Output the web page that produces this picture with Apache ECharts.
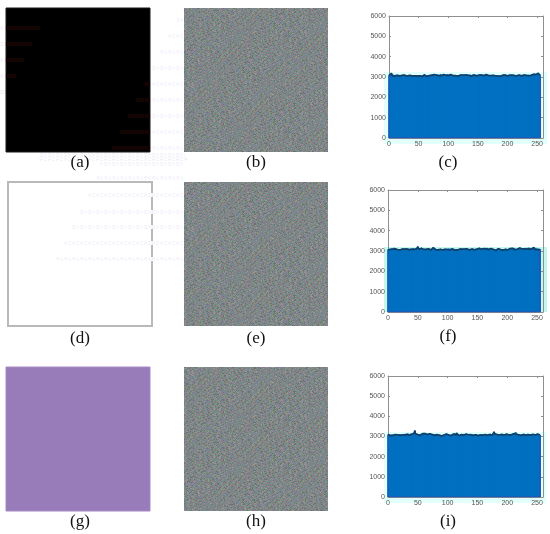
<!DOCTYPE html>
<html><head><meta charset="utf-8">
<script src="https://cdn.jsdelivr.net/npm/echarts@6/dist/echarts.min.js"></script>
<style>html,body{margin:0;padding:0;background:#fff}#c{width:550px;height:534px}</style>
</head><body><div id="c"></div>
<script>
const captions = ['(a)','(b)','(c)','(d)','(e)','(f)','(g)','(h)','(i)'];
const xTicks = [0,50,100,150,200,250];
const yMax = 6000, xMax = 260;

const histC = [
3070,3110,3060,3130,3180,3090,3050,3120,3070,3100,3040,3085,3115,3060,3090,3050,
3075,3105,3045,3090,3060,3035,3080,3100,3055,3070,3095,3040,3065,3085,3050,3075,
3090,3045,3060,3080,3035,3070,3095,3055,3040,3075,3030,3060,3090,3050,3070,3085,
3045,3065,3030,3075,3055,3090,3040,3060,3025,3070,3085,3050,3110,3065,3040,3080,
3020,3060,3095,3050,3075,3035,3065,3125,3080,3055,3090,3045,3120,3070,3140,3060,
3095,3050,3130,3085,3055,3115,3075,3150,3060,3100,3040,3085,3125,3065,3105,3050,
3090,3130,3070,3145,3060,3110,3045,3085,3120,3055,3100,3030,3075,3060,3090,3040,
3070,3020,3055,3085,3040,3075,3100,3060,3090,3050,3110,3070,3095,3055,3085,3045,
3100,3060,3120,3075,3095,3050,3110,3080,3060,3125,3070,3100,3045,3090,3130,3065,
3105,3055,3085,3115,3050,3095,3070,3130,3085,3060,3140,3075,3100,3055,3120,3090,
3065,3110,3045,3085,3125,3060,3095,3040,3075,3105,3055,3020,3070,3090,3035,3065,
3085,3045,3075,3020,3060,3095,3030,3070,3050,3085,3015,3060,3040,3075,3025,3055,
3090,3045,3070,3030,3095,3060,3115,3075,3045,3100,3065,3125,3085,3055,3110,3070,
3095,3050,3085,3120,3065,3100,3045,3080,3060,3110,3075,3040,3095,3060,3085,3105,
3050,3075,3120,3065,3095,3040,3085,3130,3070,3055,3100,3125,3060,3090,3045,3115,
3075,3135,3060,3100,3140,3085,3170,3055,3110,3160,3075,3120,3190,3095,3150,3080];

const histF = [
3060,3095,3040,3110,3075,3120,3050,3140,3085,3060,3160,3070,3105,3045,3090,3055,
3075,3030,3060,3020,3050,3085,3040,3070,3095,3055,3110,3065,3090,3045,3120,3075,
3100,3060,3130,3085,3055,3110,3070,3125,3090,3050,3105,3140,3075,3115,3060,3135,
3095,3150,3210,3120,3085,3140,3070,3110,3130,3060,3095,3045,3080,3060,3110,3040,
3075,3130,3090,3055,3105,3065,3120,3080,3045,3095,3060,3140,3170,3110,3075,3130,
3060,3090,3040,3075,3055,3100,3030,3065,3085,3045,3070,3095,3050,3080,3110,3060,
3090,3040,3075,3120,3065,3100,3130,3075,3050,3110,3085,3145,3095,3060,3115,3075,
3040,3085,3060,3100,3045,3075,3025,3060,3090,3105,3070,3135,3085,3055,3110,3065,
3095,3040,3080,3055,3105,3065,3030,3075,3090,3050,3115,3070,3045,3095,3060,3120,
3080,3050,3100,3065,3125,3085,3055,3110,3075,3135,3095,3060,3115,3080,3140,3100,
3065,3125,3085,3150,3070,3110,3155,3090,3130,3065,3115,3145,3085,3120,3060,3100,
3040,3075,3090,3050,3070,3025,3060,3085,3045,3115,3065,3095,3040,3075,3020,3055,
3085,3040,3070,3100,3050,3080,3035,3065,3095,3055,3075,3110,3060,3125,3085,3050,
3095,3130,3075,3155,3100,3060,3115,3080,3045,3090,3135,3065,3105,3150,3085,3120,
3055,3095,3060,3130,3075,3110,3045,3085,3155,3100,3065,3125,3170,3090,3130,3075,
3145,3100,3165,3085,3120,3170,3070,3115,3155,3095,3060,3130,3080,3110,3060,3090];

const histI = [
3100,3060,3120,3075,3040,3095,3060,3110,3050,3085,3030,3070,3100,3045,3075,3060,
3090,3035,3065,3110,3055,3085,3040,3125,3075,3095,3050,3130,3080,3110,3060,3140,
3095,3155,3075,3120,3060,3100,3145,3085,3115,3065,3130,3090,3170,3290,3140,3085,
3110,3060,3095,3045,3075,3120,3055,3100,3130,3075,3145,3105,3125,3085,3150,3110,
3070,3135,3095,3120,3060,3105,3140,3080,3115,3055,3095,3130,3070,3110,3045,3090,
3125,3065,3100,3050,3080,3030,3065,3095,3045,3075,3020,3060,3085,3040,3070,3105,
3050,3085,3125,3065,3100,3045,3080,3020,3055,3090,3040,3075,3110,3060,3130,3090,
3155,3100,3060,3170,3120,3075,3105,3040,3085,3025,3065,3100,3045,3080,3130,3060,
3095,3050,3075,3120,3065,3095,3040,3085,3110,3060,3135,3090,3055,3115,3075,3045,
3100,3060,3125,3085,3050,3105,3070,3035,3090,3060,3110,3075,3045,3095,3120,3065,
3085,3040,3070,3100,3055,3080,3025,3060,3095,3130,3075,3105,3050,3085,3115,3065,
3095,3145,3230,3130,3085,3110,3065,3100,3050,3080,3115,3070,3095,3045,3075,3105,
3060,3085,3040,3070,3100,3055,3090,3120,3065,3095,3045,3080,3110,3060,3130,3085,
3105,3055,3090,3140,3075,3115,3220,3125,3070,3100,3045,3085,3120,3060,3095,3050,
3080,3115,3065,3100,3140,3075,3110,3055,3090,3130,3070,3105,3045,3085,3120,3060,
3095,3050,3075,3110,3060,3090,3040,3075,3105,3055,3085,3120,3065,3095,3050,3080];

const noisePalette = {a:'#808382',b:'#92788a',c:'#6c9080',d:'#7a82a0',e:'#96968f',f:'#6a7370',g:'#88907a',h:'#728a94'};
const noiseTile = [
'acfbadgehcafbdeahgcfdbae',
'hbecagfdabhecfgadbehcafg',
'dfacehbgfcadhebfagcedhbf',
'ebgdafchbegacdfhbaegfcda',
'cahfbdgaechfdbagcehabfdc',
'gdebchafgdabehcfagdbhecf',
'fabgedhcabfgdeachbfgaedb',
'behcafdgbehafacgdabehcfa',
'adgfbechfadgbcehfagdbfce',
'hcaedbgfchaedfbgcahdegbf',
'bfgchadebfhgcadefbgchdae',
'eagdbfhcaegdbhfacegbdahf',
'gchfaebdgcfhaebdgcfhaebd',
'dbeahgcfdbegahcfbdeagfch',
'faghcdbeafghdcbafegchdba',
'cedbfagheacdbfghaecdbfag',
'ahfcegdbahfgcedabhfcgeda',
'bgdaehfcbgeadhfcgbdaehcf',
'ecafbgdhecfabgdecafhbgda',
'hfbdcaegfhbcdagefhbdcaeg',
'dagefhbcdagefhcbdagehfbc',
'fbchadgefbcahdgefbhcadeg',
'gedfbacgedbfachgedfbachd',
'chabgfedchagbfdechabgfed'];

const panels = [
  {left:6, top:8, size:144, fill:'#000000', border:'#1a1a1a'},
  {left:184,top:8, size:144, noise:true},
  {left:8, top:182,size:144, fill:'#ffffff', border:'#b9b9b9', bw:2},
  {left:184,top:182,size:144, noise:true},
  {left:6, top:367,size:144, fill:'#987cb9', border:'#a48ac2'},
  {left:184,top:367,size:144, noise:true}
];
const hists = [
  {data:histC,left:389,top:16, w:154,h:122,halo:[384,72,163,72],haloColor:'#e2fffb'},
  {data:histF,left:388,top:190,w:155,h:122,halo:[384,247,163,65],haloColor:'#c4f7ec'},
  {data:histI,left:388,top:376,w:155,h:121,halo:[384,432,162,71],haloColor:'#e2fffb'}
];
const captionPos = [[80,163],[256,163],[448,163],[80,339],[256,339],[448,337],[80,522],[256,522],[448,522]];

function noisePattern(){
  const size=144, cv=document.createElement('canvas');
  cv.width=cv.height=size;
  const g=cv.getContext('2d');
  g.filter='blur(0.45px)';
  const n=noiseTile.length;
  for(let y=0;y<size;y++)for(let x=0;x<size;x++){
    const r=noiseTile[(y+(x>>3)*5)%n], ch=r[(x*7+(y>>2)*11)%n];
    g.fillStyle=noisePalette[ch]; g.fillRect(x,y,1,1);
  }
  return {image:cv,repeat:'repeat'};
}
function ghostPattern(a,b){
  const cv=document.createElement('canvas');cv.width=8;cv.height=3;
  const g=cv.getContext('2d');g.fillStyle='#fff';g.fillRect(0,0,8,3);
  g.fillStyle=a;g.fillRect(0,0,3,1);g.fillRect(4,1,3,1);g.fillRect(1,2,2,1);
  g.fillStyle=b;g.fillRect(3,0,2,1);g.fillRect(0,1,2,1);g.fillRect(5,2,2,1);
  return {image:cv,repeat:'repeat'};
}

const grid=[],xAxis=[],yAxis=[],series=[],graphic=[];
const hidden=(gi)=>({gridIndex:gi,type:'value',show:false,min:0,max:1});
const pat=noisePattern();
panels.forEach(p=>{
  const gi=grid.length;
  grid.push({show:true,left:p.left,top:p.top,width:p.size,height:p.size,
    backgroundColor:p.noise?pat:p.fill,borderColor:p.noise?'#7f8281':p.border,borderWidth:p.noise?0:(p.bw||1),z:3});
  xAxis.push(hidden(gi));yAxis.push(hidden(gi));
});

/* faint compression ghosts */
const ghostFill=ghostPattern('#fdeef8','#ebfdfd');
const redFill='#130303';
[[0,28,40],[0,44,32],[0,60,24],[0,76,16],[0,92,6]].forEach(r=>{
  graphic.push({type:'rect',z:2,shape:{x:r[0],y:r[1]-2,width:6,height:4},style:{fill:ghostFill}});
  graphic.push({type:'rect',z:10,shape:{x:6,y:r[1]-2,width:r[2]-6,height:4},style:{fill:redFill}});
});
[[177,20],[168,36],[160,52],[152,68],[144,84],[136,100],[128,116],[120,132],[112,148]].forEach(r=>{
  graphic.push({type:'rect',z:2,shape:{x:Math.max(r[0],150),y:r[1]-2,width:184-Math.max(r[0],150),height:4},style:{fill:ghostFill}});
  if(r[0]<150) graphic.push({type:'rect',z:10,shape:{x:r[0],y:r[1]-2,width:150-r[0],height:4},style:{fill:redFill}});
});
[[40,155,145],[38,159,150],[100,164,84],[97,178,87],[88,195,96],[80,212,104],[72,227,112],[64,243,120],[56,259,128]].forEach(r=>{
  graphic.push({type:'rect',z:r[1]>170?10:2,shape:{x:r[0],y:r[1]-2,width:r[2],height:4},style:{fill:ghostFill,opacity:.9}});
});

hists.forEach(h=>{
  const gi=grid.length;
  graphic.push({type:'rect',z:0,shape:{x:h.halo[0],y:h.halo[1],width:h.halo[2],height:h.halo[3]},style:{fill:h.haloColor}});
  grid.push({left:h.left,top:h.top,width:h.w,height:h.h,z:5});
  const line={lineStyle:{color:'#8f8f8f',width:1}};
  const xb={gridIndex:gi,type:'value',min:0,max:xMax,interval:50,position:'bottom',splitLine:{show:false},
    axisLine:{show:true,onZero:false,...line},axisTick:{show:true,inside:true,length:2,...line},
    axisLabel:{show:true,fontSize:7,color:'#555',margin:3,fontFamily:'Liberation Sans',
      formatter:v=>xTicks.includes(v)?String(v):''}};
  const xt={...xb,position:'top',axisLabel:{show:false}};
  const yl={gridIndex:gi,type:'value',min:0,max:yMax,interval:1000,position:'left',splitLine:{show:false},
    axisLine:{show:true,onZero:false,...line},axisTick:{show:true,inside:true,length:2,...line},
    axisLabel:{show:true,fontSize:7,color:'#555',margin:3,fontFamily:'Liberation Sans',formatter:v=>String(v)}};
  const yr={...yl,position:'right',axisLabel:{show:false}};
  const xi=xAxis.length, yi=yAxis.length;
  xAxis.push(xb,xt);yAxis.push(yl,yr);
  const pts=h.data.map((v,i)=>[i,v]);
  series.push({type:'bar',xAxisIndex:xi,yAxisIndex:yi,data:pts,barWidth:2,silent:true,animation:false,
    itemStyle:{color:'#0070c0'},z:2});
  series.push({type:'line',xAxisIndex:xi,yAxisIndex:yi,data:[[0,0],...pts,[255,0],[0,0]],showSymbol:false,silent:true,animation:false,
    lineStyle:{color:'#2f4fb4',width:1},z:3});
  series.push({type:'line',xAxisIndex:xi,yAxisIndex:yi,data:pts,showSymbol:false,silent:true,animation:false,
    lineStyle:{color:'#123f63',width:1.6},z:4});
});
captions.forEach((t,i)=>{
  graphic.push({type:'text',z:20,x:captionPos[i][0],y:captionPos[i][1],
    style:{text:t,fontFamily:'Liberation Serif',fontSize:17,fill:'#111',align:'center',verticalAlign:'middle'}});
});

const chart=echarts.init(document.getElementById('c'),null,{renderer:'canvas'});
chart.setOption({animation:false,backgroundColor:'#fff',grid,xAxis,yAxis,series,graphic});
</script></body></html>
